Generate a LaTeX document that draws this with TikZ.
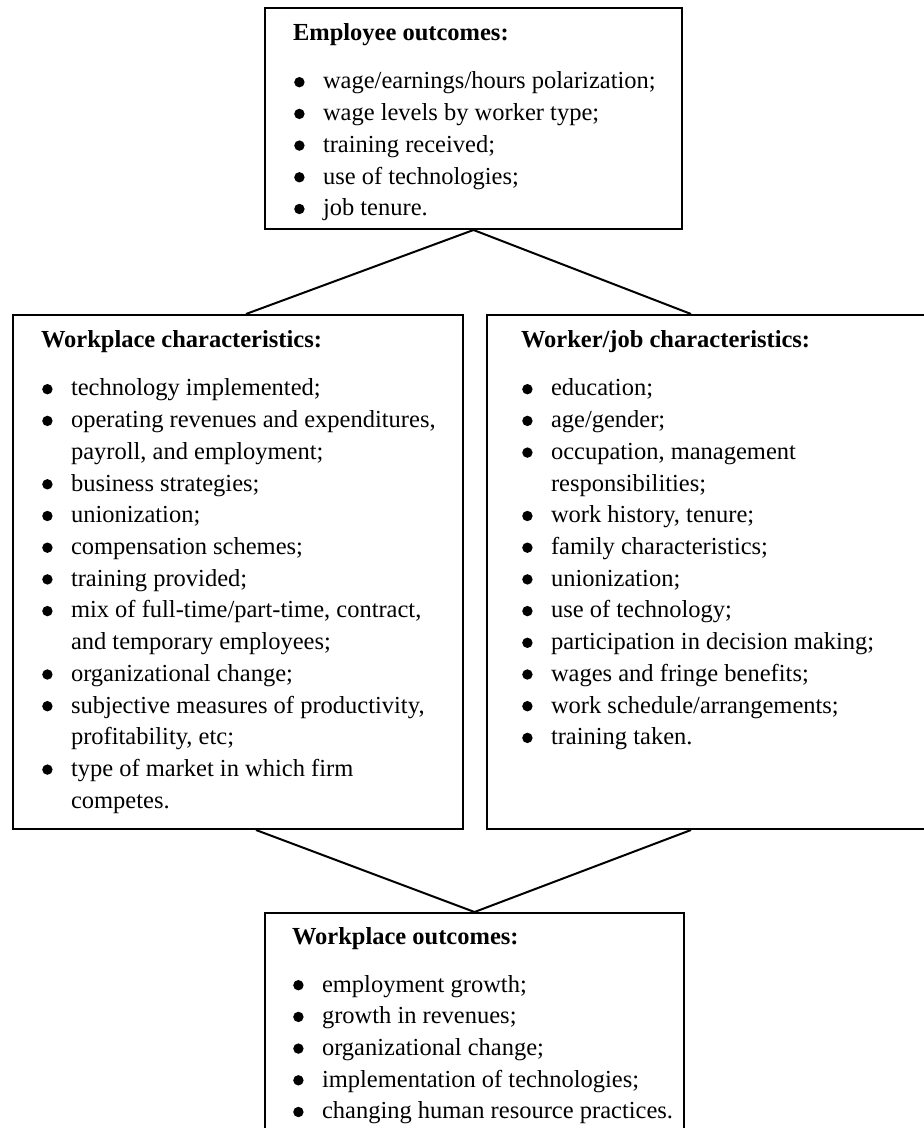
\documentclass[tikz,border=0pt]{standalone}
\usepackage{fontspec}
\setmainfont{Liberation Serif}

\newcommand{\dotmark}{\tikz[baseline=-3.4pt]\fill (0,0) circle (2.6pt);}
\newcommand{\entry}[1]{\par\hangindent=15pt\hangafter=1\noindent\makebox[15pt][l]{\hspace{0.6pt}\dotmark}#1}
% width, height, left pad, title baseline, extra gap, title, entries
\newcommand{\panel}[7]{\parbox[t][#2][t]{#1}{\leftskip=#3 \rightskip=-30pt plus 1fil
  \parfillskip=0pt plus 1fil \noindent\rule{0pt}{#4}\textbf{#6}\par\vspace{#5}#7}}

\begin{document}
\begin{tikzpicture}[x=0.5pt,y=-0.5pt]
\tikzstyle{panel box}=[draw, line width=1pt, inner sep=0pt, anchor=north west,
  font=\fontsize{12.25}{15.85}\selectfont]
\tikzstyle{link}=[line width=1pt]
\useasboundingbox (0,0) rectangle (923,1128);
\node[panel box] (employee) at (264,7) {\panel{208.5pt}{110.5pt}{14pt}{16.5pt}{8.15pt}
  {Employee outcomes:}{%
  \entry{wage/earnings/hours polarization;}
  \entry{wage levels by worker type;}
  \entry{training received;}
  \entry{use of technologies;}
  \entry{job tenure.}}};
\node[panel box] (workplace) at (12,314) {\panel{225pt}{257pt}{14pt}{16.5pt}{8.15pt}
  {Workplace characteristics:}{%
  \entry{technology implemented;}
  \entry{operating revenues and expenditures,\\ payroll, and employment;}
  \entry{business strategies;}
  \entry{unionization;}
  \entry{compensation schemes;}
  \entry{training provided;}
  \entry{mix of full-time/part-time, contract,\\ and temporary employees;}
  \entry{organizational change;}
  \entry{subjective measures of productivity,\\ profitability, etc;}
  \entry{type of market in which firm\\ competes.}}};
\node[panel box] (worker) at (486,314) {\panel{220pt}{257pt}{17pt}{16.5pt}{8.15pt}
  {Worker/job characteristics:}{%
  \entry{education;}
  \entry{age/gender;}
  \entry{occupation, management\\ responsibilities;}
  \entry{work history, tenure;}
  \entry{family characteristics;}
  \entry{unionization;}
  \entry{use of technology;}
  \entry{participation in decision making;}
  \entry{wages and fringe benefits;}
  \entry{work schedule/arrangements;}
  \entry{training taken.}}};
\node[panel box] (outcomes) at (264,912) {\panel{209.5pt}{111pt}{13.5pt}{15.5pt}{8.15pt}
  {Workplace outcomes:}{%
  \entry{employment growth;}
  \entry{growth in revenues;}
  \entry{organizational change;}
  \entry{implementation of technologies;}
  \entry{changing human resource practices.}}};
% connectors
\draw[link] (employee.south) -- ([xshift=4pt]workplace.north);
\draw[link] (employee.south) -- ([xshift=-8pt]worker.north);
\draw[link] ([xshift=9pt]workplace.south) -- (outcomes.north);
\draw[link] ([xshift=-8pt]worker.south) -- (outcomes.north);
\end{tikzpicture}
\end{document}
